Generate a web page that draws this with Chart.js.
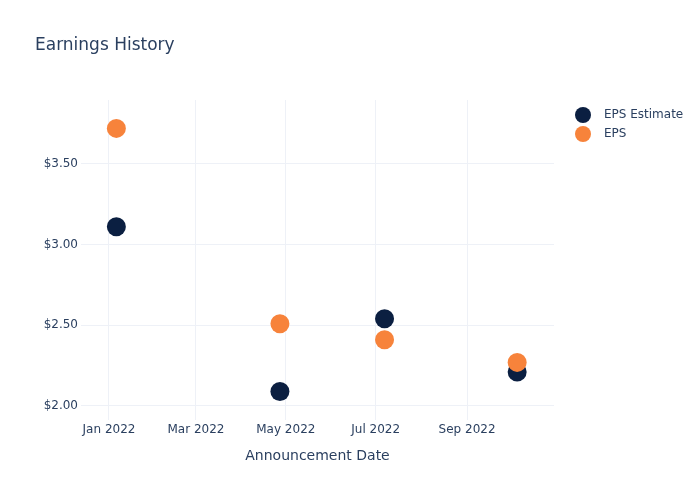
<!DOCTYPE html>
<html>
<head>
<meta charset="utf-8">
<title>Earnings History</title>
<script src="https://cdn.jsdelivr.net/npm/chart.js@4.4.1/dist/chart.umd.min.js"></script>
<style>
    html, body { margin: 0; padding: 0; background: #ffffff; }
    canvas { display: block; }
</style>
</head>
<body>
<canvas id="chart" width="700" height="500"></canvas>
<script>
// announcement dates and EPS values
const announceDates = ['2022-01-06', '2022-04-27', '2022-07-07', '2022-10-05'];
const epsEstimate = [3.11, 2.09, 2.54, 2.21];
const epsActual = [3.72, 2.51, 2.41, 2.27];

// axis ticks
const xTickDates = ['2022-01-01', '2022-03-01', '2022-05-01', '2022-07-01', '2022-09-01'];
const xTickLabels = ['Jan 2022', 'Mar 2022', 'May 2022', 'Jul 2022', 'Sep 2022'];
const yTickValues = [2.0, 2.5, 3.0, 3.5];
const yTickLabels = ['$2.00', '$2.50', '$3.00', '$3.50'];

const seriesNames = ['EPS Estimate', 'EPS'];
const seriesColors = ['#0b1f41', '#f7833b'];

const textColor = '#2a3f5f';
const gridColor = '#eef1f7';
const fontFamily = '"DejaVu Sans", "Open Sans", Arial, sans-serif';

function toTime(d) {
    const [y, m, day] = d.split('-').map(Number);
    return Date.UTC(y, m - 1, day);
}

const xMin = toTime('2021-12-13');
const xMax = toTime('2022-10-30');

function points(values) {
    return announceDates.map((d, i) => ({ x: toTime(d), y: values[i] }));
}

// legend drawn by hand to sit where the original puts it
const sideLegend = {
    id: 'sideLegend',
    afterDraw(chart) {
        const ctx = chart.ctx;
        ctx.save();
        ctx.font = '12px ' + fontFamily;
        ctx.textBaseline = 'middle';
        seriesNames.forEach((name, i) => {
            const y = 115 + i * 19;
            ctx.beginPath();
            ctx.arc(583, y, 8, 0, Math.PI * 2);
            ctx.fillStyle = seriesColors[i];
            ctx.fill();
            ctx.fillStyle = textColor;
            ctx.fillText(name, 604, y);
        });
        ctx.restore();
    }
};

new Chart(document.getElementById('chart').getContext('2d'), {
    type: 'scatter',
    data: {
        datasets: [
            {
                label: seriesNames[0],
                data: points(epsEstimate),
                backgroundColor: seriesColors[0],
                borderColor: seriesColors[0],
                borderWidth: 0,
                pointRadius: 9.5,
                pointHoverRadius: 9.5,
                order: 1
            },
            {
                label: seriesNames[1],
                data: points(epsActual),
                backgroundColor: seriesColors[1],
                borderColor: seriesColors[1],
                borderWidth: 0,
                pointRadius: 9.5,
                pointHoverRadius: 9.5,
                order: 0
            }
        ]
    },
    options: {
        responsive: false,
        animation: false,
        devicePixelRatio: 1,
        layout: {
            padding: { top: 0, left: 35, right: 146, bottom: 35 }
        },
        scales: {
            x: {
                type: 'linear',
                min: xMin,
                max: xMax,
                afterBuildTicks: (scale) => {
                    scale.ticks = xTickDates.map(d => ({ value: toTime(d) }));
                },
                afterFit: (scale) => { scale.height = 45; },
                ticks: {
                    callback: (value) => {
                        const i = xTickDates.findIndex(d => toTime(d) === value);
                        return i >= 0 ? xTickLabels[i] : '';
                    },
                    maxRotation: 0,
                    autoSkip: false,
                    padding: 3,
                    color: textColor,
                    font: { family: fontFamily, size: 12 }
                },
                grid: { color: gridColor, drawTicks: false, lineWidth: 1 },
                border: { display: false },
                title: {
                    display: true,
                    text: 'Announcement Date',
                    color: textColor,
                    font: { family: fontFamily, size: 14 },
                    padding: { top: 0, bottom: 0 }
                }
            },
            y: {
                type: 'linear',
                min: 1.913,
                max: 3.896,
                afterBuildTicks: (scale) => {
                    scale.ticks = yTickValues.map(v => ({ value: v }));
                },
                afterFit: (scale) => { scale.width = 46; },
                ticks: {
                    callback: (value) => {
                        const i = yTickValues.indexOf(value);
                        return i >= 0 ? yTickLabels[i] : '';
                    },
                    padding: 3,
                    color: textColor,
                    font: { family: fontFamily, size: 12 }
                },
                grid: { color: gridColor, drawTicks: false, lineWidth: 1 },
                border: { display: false }
            }
        },
        plugins: {
            legend: { display: false },
            tooltip: { enabled: false },
            title: {
                display: true,
                text: 'Earnings History',
                align: 'start',
                color: textColor,
                font: { family: fontFamily, size: 17, weight: 'normal', lineHeight: 1.2 },
                padding: { top: 35, bottom: 44.6 }
            }
        }
    },
    plugins: [sideLegend]
});
</script>
</body>
</html>
